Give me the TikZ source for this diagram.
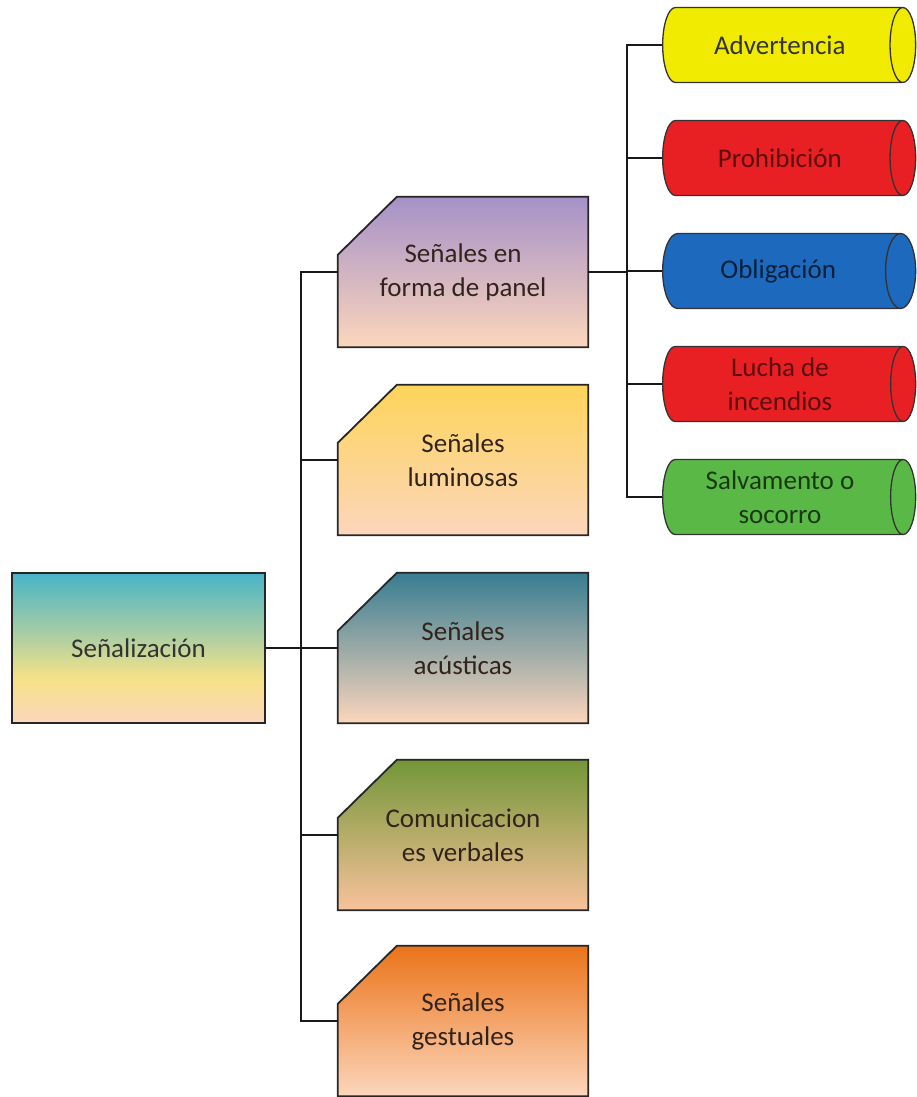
\documentclass[tikz,border=0pt]{standalone}
\usepackage{fontspec}
\setmainfont{Carlito}
\usetikzlibrary{shapes.geometric,backgrounds}

\definecolor{turquesa}{RGB}{72,180,200}
\definecolor{crema}{RGB}{245,226,135}
\definecolor{melocoton}{RGB}{252,214,188}
\definecolor{lila}{RGB}{165,145,200}
\definecolor{oro}{RGB}{253,212,90}
\definecolor{petroleo}{RGB}{55,125,145}
\definecolor{oliva}{RGB}{115,150,55}
\definecolor{canela}{RGB}{205,175,105}
\definecolor{naranja}{RGB}{235,115,25}
\definecolor{amarillo}{RGB}{240,235,0}
\definecolor{rojo}{RGB}{232,32,36}
\definecolor{azul}{RGB}{28,105,190}
\definecolor{verde}{RGB}{90,185,70}
\definecolor{tinta}{RGB}{50,36,28}

\pgfdeclareverticalshading{sombraraiz}{100bp}{color(0bp)=(melocoton);
  color(25bp)=(melocoton); color(40bp)=(crema); color(55bp)=(crema!55!turquesa);
  color(75bp)=(turquesa); color(100bp)=(turquesa)}

\tikzset{
  every node/.style={font=\fontsize{27}{34}\selectfont, align=center},
  raiz/.style={rectangle, draw=black!85, line width=1.8pt, shading=sombraraiz,
    minimum width=253pt, minimum height=150pt, text=black!80},
  panel/.style={rectangle, minimum width=250pt, minimum height=150pt,
    inner sep=0pt, text=tinta},
  marco/.style={draw=black!85, line width=1.8pt},
  tubo/.style={cylinder, aspect=1, draw=black!80, line width=1.3pt,
    minimum height=253pt, minimum width=75pt, anchor=west},
  tubo doble/.style={tubo, aspect=0.42},
  rama/.style={draw=black!90, line width=1.8pt}
}

\begin{document}
\begin{tikzpicture}[x=1pt,y=-1pt]
  \useasboundingbox (0,0) rectangle (917,1097);

  \node[raiz] (senal) at (138.5,648) {Señalización};

  \node[panel] (panel) at (463,272) {Señales en\\forma de panel};
  \node[panel] (lumin) at (463,460) {Señales\\luminosas};
  \node[panel] (acust) at (463,648) {Señales\\acústicas};
  \node[panel] (verbal) at (463,835) {Comunicacion\\es verbales};
  \node[panel] (gestos) at (463,1021) {Señales\\gestuales};

  % cajas con la esquina cortada
  \begin{pgfonlayer}{background}
    \foreach \caja/\arriba/\medio/\abajo in {
        panel/lila/lila!45!melocoton/melocoton,
        lumin/oro/melocoton!75!oro/melocoton,
        acust/petroleo/melocoton!55!petroleo/melocoton,
        verbal/oliva/canela/melocoton!80!naranja,
        gestos/naranja/melocoton!50!naranja/melocoton}
      \shade[marco, top color=\arriba, middle color=\medio, bottom color=\abajo]
        ([yshift=-58pt]\caja.north west) -- ([xshift=59pt]\caja.north west)
        -- (\caja.north east) -- (\caja.south east) -- (\caja.south west) -- cycle;
  \end{pgfonlayer}

  \node[tubo, fill=amarillo, text=black!80] (advert) at (662,45) {Advertencia};
  \node[tubo, fill=rojo, text=rojo!40!black] (prohib) at (662,158) {Prohibición};
  \node[tubo, fill=azul, text=azul!30!black] (oblig) at (662,271) {Obligación};
  \node[tubo doble, fill=rojo, text=rojo!40!black] (lucha) at (662,384) {Lucha de\\incendios};
  \node[tubo doble, fill=verde, text=verde!30!black] (socorro) at (662,497) {Salvamento o\\socorro};

  % ramas de la raiz
  \foreach \hijo in {panel,lumin,acust,verbal,gestos}
    \draw[rama] (senal.east) -- ++(35,0) |- (\hijo.west);

  % ramas del panel
  \foreach \hijo in {advert,prohib,oblig,lucha,socorro}
    \draw[rama] (panel.east) -- ++(39,0) |- (\hijo.west);
\end{tikzpicture}
\end{document}
